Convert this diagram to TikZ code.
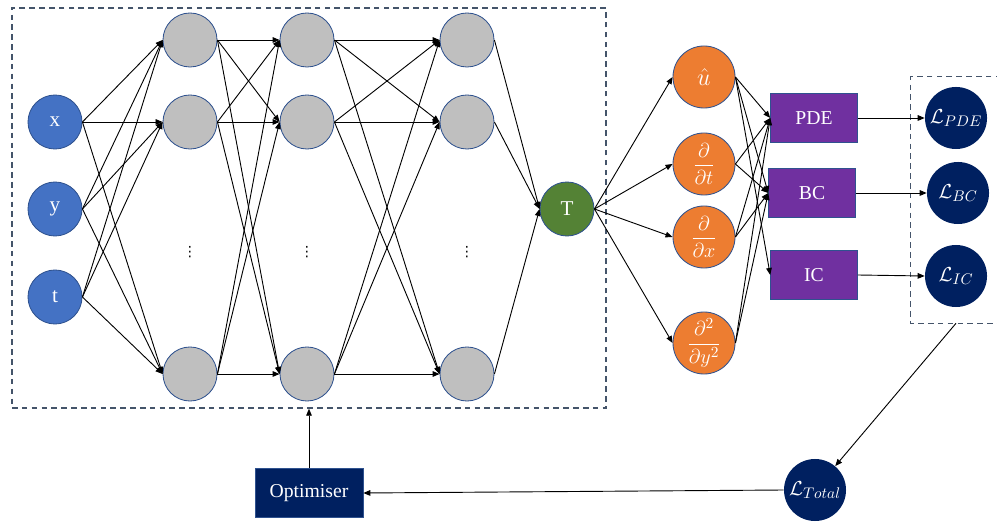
\documentclass[tikz,border=0pt]{standalone}
\usepackage{amsmath}
\usepackage{fontspec}
\setmainfont{Liberation Serif}
\newfontfamily\dotsfont{DejaVu Sans}
\usepackage{tikz}
\usetikzlibrary{arrows.meta, positioning, fit}
\definecolor{inblue}{HTML}{4472C4}
\definecolor{hidgrey}{HTML}{BFBFBF}
\definecolor{outgreen}{HTML}{548235}
\definecolor{derivorange}{HTML}{ED7D31}
\definecolor{condpurple}{HTML}{7030A0}
\definecolor{lossnavy}{HTML}{002060}
\definecolor{rimblue}{HTML}{2F528F}
\definecolor{dashgrey}{HTML}{44546A}

\begin{document}
\begin{tikzpicture}[x=0.025cm, y=-0.025cm, >={Triangle[length=5pt, width=4pt]}]
    \tikzset{neuron/.style={circle, draw=rimblue, line width=0.6pt, minimum size=1.35cm, inner sep=0pt, text=white, font=\fontsize{15}{18}\selectfont},
        deriv/.style={circle, draw=rimblue, fill=derivorange, line width=0.6pt, minimum size=1.55cm, inner sep=0pt, text=white, font=\fontsize{15}{17}\selectfont},
        cond/.style={draw=rimblue, fill=condpurple, minimum width=2.175cm, minimum height=1.225cm, text=white, font=\fontsize{14}{16}\selectfont},
        loss/.style={circle, fill=lossnavy, minimum size=1.55cm, inner sep=0pt, text=white, font=\fontsize{15}{17}\selectfont},
        dashbox/.style={draw=dashgrey, line width=1pt, dash pattern=on 4pt off 3pt},
        link/.style={->, line width=0.65pt}
    }
    \useasboundingbox (0,0) rectangle (997,523);

    \node (Net) [dashbox, fit={(12,8)(606,408)}, inner sep=0pt] {};

    \foreach \i / \y / \t in {1/122/x, 2/209/y, 3/297/t}
        \node (In\i) [neuron, fill=inblue] at (55,\y) {\t};

    \foreach \l / \x in {1/190, 2/307, 3/467} {
        \foreach \i / \y in {1/40, 2/122, 3/374}
            \node (H\l-\i) [neuron, fill=hidgrey] at (\x,\y) {};
        \node (Dots\l) [font=\dotsfont] at (\x,252) {⋮};
    }

    \node (T) [neuron, fill=outgreen] at (567,209) {T};

    \foreach \i in {1,2,3}
        \foreach \j in {1,2,3}
            \draw [link] (In\i.east) -- (H1-\j.west);
    \foreach \l / \m in {1/2, 2/3}
        \foreach \i in {1,2,3}
            \foreach \j in {1,2,3}
                \draw [link] (H\l-\i.east) -- (H\m-\j.west);
    \foreach \i in {1,2,3}
        \draw [link] (H3-\i.east) -- (T.west);

    \node (Uhat) [deriv, font=\fontsize{19}{21}\selectfont] at (704,77) {$\hat{u}$};
    \node (Dt) [deriv] at (704,164) {$\dfrac{\partial}{\partial t}$};
    \node (Dx) [deriv] at (704,237) {$\dfrac{\partial}{\partial x}$};
    \node (Dyy) [deriv] at (704,343) {$\dfrac{\partial^2}{\partial y^2}$};

    \node (PDE) [cond] at (814,118) {PDE};
    \node (BC) [cond] at (812,193) {BC};
    \node (IC) [cond] at (814,275) {IC};

    \node (LPDE) [loss] at (956,118) {$\mathcal{L}_{PDE}$};
    \node (LBC) [loss] at (958,193) {$\mathcal{L}_{BC}$};
    \node (LIC) [loss] at (956,276) {$\mathcal{L}_{IC}$};
    \node (LossBox) [fit={(911,77)(1001,323)}, inner sep=0pt] {};
    \draw [dashbox] (LossBox.north east) -- (LossBox.north west) -- (LossBox.south west) -- (LossBox.south east);

    \node (LTotal) [loss] at (815,490) {$\mathcal{L}_{Total}$};
    \node (Opt) [cond, fill=lossnavy, minimum width=2.7cm] at (309,493) {Optimiser};

    \foreach \d in {Uhat, Dt, Dx, Dyy}
        \draw [link] (T.east) -- (\d.west);
    \foreach \d / \c in {Uhat/PDE, Uhat/BC, Uhat/IC, Dt/PDE, Dt/BC, Dx/PDE, Dx/BC, Dyy/PDE, Dyy/BC}
        \draw [link] (\d.east) -- (\c.west);
    \draw [link] (PDE.east) -- (LPDE.west);
    \draw [link] (BC.east) -- (LBC.west);
    \draw [link] (IC.east) -- (LIC.west);

    \draw [link] (LossBox.south) -- (LTotal);
    \draw [link] (LTotal.west) -- (Opt.east);
    \draw [link] (Opt.north) -- (Opt.north |- Net.south);
\end{tikzpicture}
\end{document}
